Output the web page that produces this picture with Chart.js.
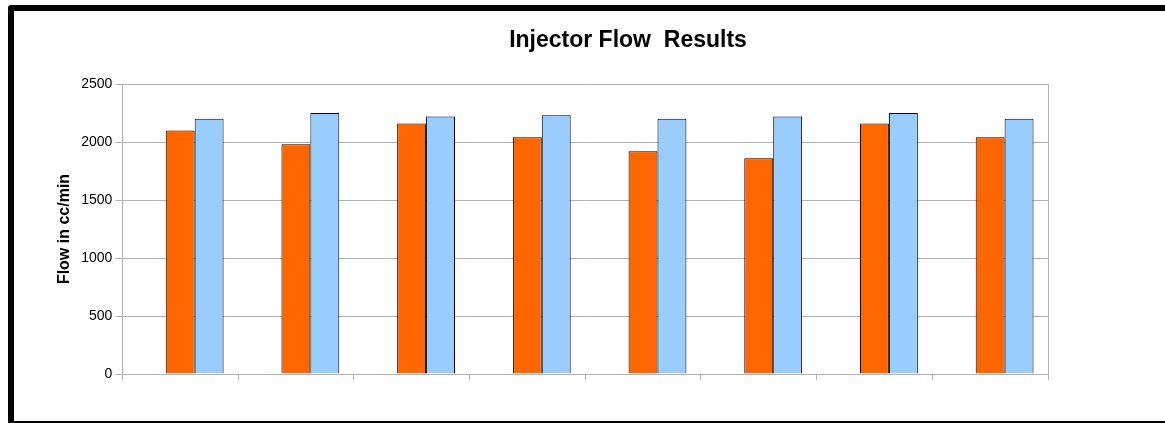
<!DOCTYPE html>
<html>
<head>
<meta charset="utf-8">
<title>Injector Flow Results</title>
<script src="https://cdn.jsdelivr.net/npm/chart.js@4/dist/chart.umd.min.js"></script>
<style>
	body { margin: 0; background: #fff; overflow: hidden; }
	.frame {
		position: absolute; left: 8px; top: 5px;
		width: 1170px; height: 410px;
		border: 6px solid #000; border-radius: 3px;
	}
	.holder { position: absolute; left: 0; top: 0; width: 1165px; height: 423px; }
</style>
</head>
<body>
<div class="frame"></div>
<div class="holder"><canvas id="flowchart"></canvas></div>
<script>
// injectors, no names printed under the axis in the original
var injectors = ['1', '2', '3', '4', '5', '6', '7', '8'];
var flowBefore = [2100, 1980, 2160, 2040, 1920, 1860, 2160, 2040];
var flowAfter = [2200, 2250, 2220, 2230, 2200, 2220, 2250, 2200];
// third column of the sheet is empty but still reserves its slot
var emptySeries = [null, null, null, null, null, null, null, null];
var yTicks = [0, 500, 1000, 1500, 2000, 2500];
var chartTitle = 'Injector Flow  Results';

var gridGrey = '#b3b3b3';

// the original frame is wider than the window, so its title sits
// right of the plot centre; draw it by hand, plus the right plot edge
var frameBits = {
	id: 'frameBits',
	afterDraw: function(chart) {
		var a = chart.chartArea, c = chart.ctx;
		c.save();
		c.strokeStyle = gridGrey;
		c.lineWidth = 1;
		c.beginPath();
		c.moveTo(Math.round(a.right) + 0.5, a.top);
		c.lineTo(Math.round(a.right) + 0.5, a.bottom);
		c.stroke();

		c.fillStyle = '#000';
		c.font = 'bold 23px "Liberation Sans"';
		c.textAlign = 'center';
		c.textBaseline = 'middle';
		c.fillText(chartTitle, 628, 41);
		c.restore();
	}
};

var ctx = document.getElementById('flowchart');
var chart = new Chart(ctx, {
	type: 'bar',
	data: {
		labels: injectors,
		datasets: [
			{ label: 'Series 1', data: emptySeries, backgroundColor: '#ffffff', borderWidth: 0 },
			{ label: 'Before', data: flowBefore, backgroundColor: '#ff6600', borderColor: '#000', borderWidth: 1 },
			{ label: 'After', data: flowAfter, backgroundColor: '#99ccff', borderColor: '#000', borderWidth: 1 }
		]
	},
	options: {
		responsive: true,
		maintainAspectRatio: false,
		animation: false,
		layout: { padding: { left: 51, right: 117, top: 84, bottom: 43 } },
		datasets: { bar: { categoryPercentage: 0.75, barPercentage: 1.0 } },
		plugins: {
			legend: { display: false },
			title: { display: false }
		},
		scales: {
			x: {
				grid: { drawOnChartArea: false, color: gridGrey, tickLength: 6 },
				border: { color: gridGrey },
				ticks: { display: false }
			},
			y: {
				min: 0,
				max: 2500,
				afterBuildTicks: function(axis) {
					axis.ticks = yTicks.map(function(v) { return { value: v }; });
				},
				grid: { color: gridGrey, tickLength: 7 },
				border: { color: gridGrey },
				ticks: {
					color: '#000',
					padding: 3,
					font: { family: 'Liberation Sans', size: 14 },
					callback: function(v) { return String(v); }
				},
				title: {
					display: true,
					text: 'Flow in cc/min',
					color: '#000',
					font: { family: 'Liberation Sans', size: 16, weight: 'bold' }
				}
			}
		}
	},
	plugins: [frameBits]
});
</script>
</body>
</html>
